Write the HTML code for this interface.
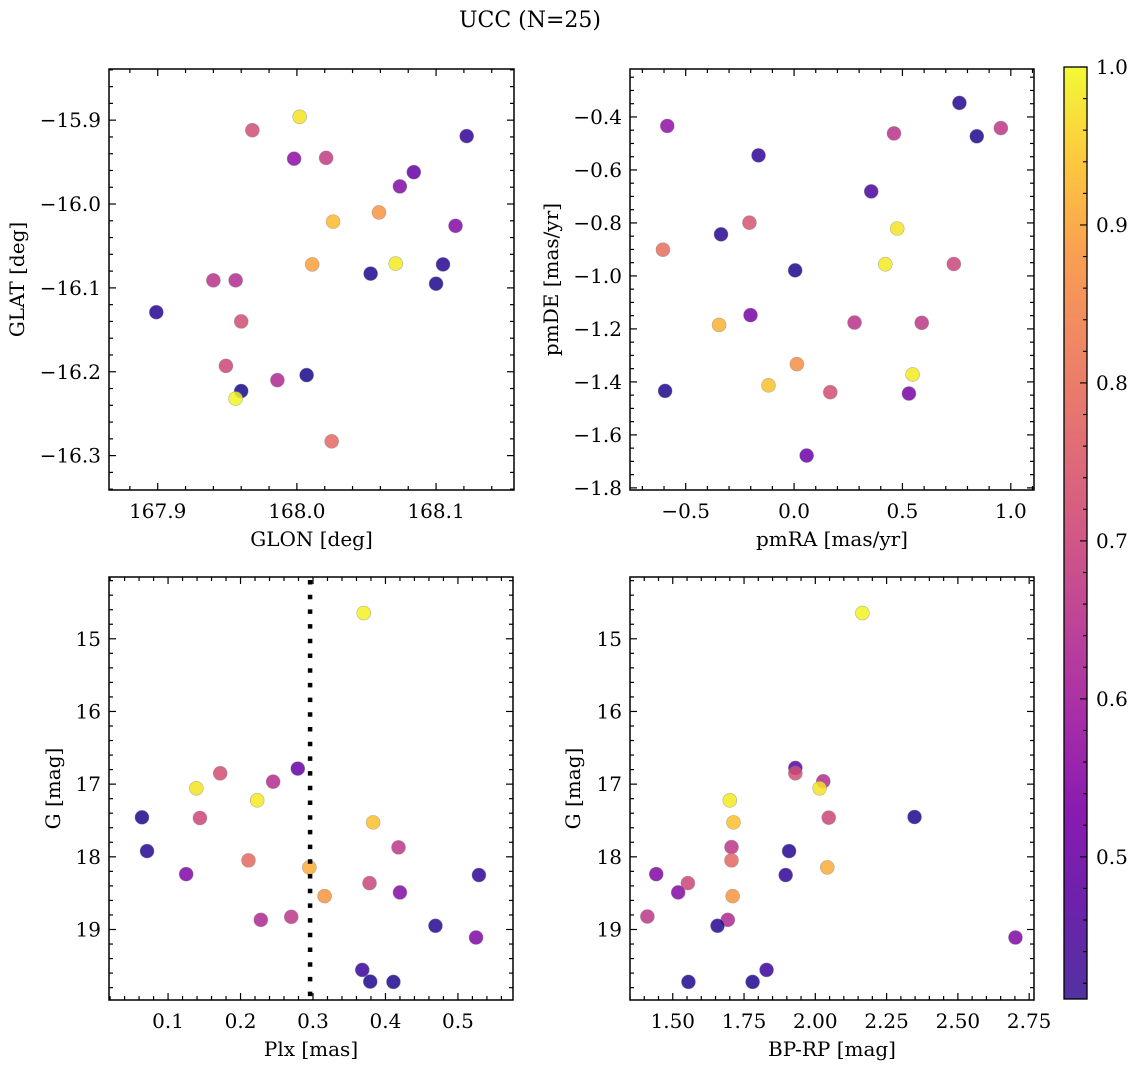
<!DOCTYPE html>
<html><head><meta charset="utf-8"><style>
html,body{margin:0;padding:0;background:#fff;}
svg{display:block;font-family:"DejaVu Serif","Liberation Serif",serif;}
</style></head><body>
<svg id="fig" width="1136" height="1067" viewBox="0 0 1136 1067" xmlns="http://www.w3.org/2000/svg">
<defs>
<linearGradient id="cbgrad" x1="0" y1="1" x2="0" y2="0">
<stop offset="0" stop-color="#3f1c96"/><stop offset="0.1" stop-color="#5c0aa1"/>
<stop offset="0.2" stop-color="#7c02a8"/><stop offset="0.3" stop-color="#9c179e"/>
<stop offset="0.4" stop-color="#b52f8c"/><stop offset="0.5" stop-color="#cc4778"/>
<stop offset="0.6" stop-color="#de5f65"/><stop offset="0.7" stop-color="#ed7953"/>
<stop offset="0.8" stop-color="#f89540"/><stop offset="0.9" stop-color="#fdc328"/>
<stop offset="1" stop-color="#f0f921"/>
</linearGradient>
</defs>
<text x="530" y="27" text-anchor="middle" font-size="22">UCC (N=25)</text>
<g id="layer"></g>
</svg>
<script>
// Panel 1: GLON vs GLAT
const glonVals=[168.002,167.968,167.998,168.021,168.122,168.084,168.074,168.059,168.026,168.114,168.011,168.071,168.105,168.053,168.100,167.940,167.956,167.899,167.960,167.949,167.986,168.007,167.960,167.956,168.025];
const glatVals=[-15.896,-15.912,-15.946,-15.945,-15.919,-15.962,-15.979,-16.010,-16.021,-16.026,-16.072,-16.071,-16.072,-16.083,-16.095,-16.091,-16.091,-16.129,-16.140,-16.193,-16.210,-16.204,-16.223,-16.232,-16.283];
const prob1=[0.97,0.72,0.58,0.68,0.45,0.52,0.57,0.85,0.91,0.57,0.87,0.98,0.44,0.43,0.43,0.66,0.65,0.44,0.72,0.70,0.64,0.42,0.42,0.99,0.77];
// Panel 2: pmRA vs pmDE
const pmraVals=[0.763,-0.585,0.461,0.843,0.954,-0.164,0.356,-0.206,-0.337,0.476,-0.605,0.421,0.737,0.005,-0.201,-0.346,0.279,0.589,0.013,-0.118,0.547,-0.595,0.167,0.530,0.058];
const pmdeVals=[-0.347,-0.434,-0.462,-0.473,-0.442,-0.545,-0.681,-0.799,-0.843,-0.821,-0.901,-0.956,-0.955,-0.979,-1.148,-1.185,-1.176,-1.177,-1.333,-1.413,-1.372,-1.434,-1.439,-1.444,-1.678];
const prob2=[0.44,0.59,0.66,0.43,0.67,0.45,0.48,0.73,0.44,0.97,0.78,0.98,0.70,0.43,0.55,0.90,0.66,0.67,0.84,0.92,0.98,0.43,0.72,0.55,0.53];
// Panel 3: Plx vs G
const plxVals=[0.370,0.279,0.172,0.245,0.139,0.223,0.064,0.144,0.383,0.418,0.071,0.211,0.295,0.125,0.529,0.378,0.420,0.316,0.270,0.228,0.469,0.525,0.368,0.379,0.411];
const gVals3=[14.646,16.786,16.851,16.966,17.057,17.223,17.457,17.466,17.526,17.870,17.921,18.049,18.146,18.238,18.251,18.362,18.490,18.541,18.826,18.867,18.949,19.110,19.556,19.717,19.721];
const prob3=[0.99,0.52,0.72,0.65,0.97,0.98,0.43,0.70,0.92,0.67,0.44,0.77,0.89,0.56,0.45,0.70,0.57,0.85,0.67,0.64,0.44,0.56,0.46,0.43,0.43];
const plxLine=0.296;
// Panel 4: BP-RP vs G
const bprpVals=[2.165,1.930,1.930,2.028,2.015,1.700,2.348,2.047,1.713,1.706,1.908,1.706,2.042,1.442,1.896,1.553,1.519,1.710,1.411,1.693,1.657,2.702,1.829,1.780,1.555];
const gVals4=[14.646,16.777,16.851,16.961,17.057,17.223,17.452,17.461,17.526,17.866,17.921,18.049,18.146,18.238,18.251,18.362,18.490,18.541,18.821,18.867,18.949,19.110,19.556,19.721,19.721];
const prob4=[0.99,0.50,0.72,0.65,0.97,0.98,0.43,0.70,0.92,0.67,0.44,0.77,0.89,0.56,0.45,0.70,0.57,0.85,0.67,0.64,0.44,0.56,0.46,0.43,0.43];
// Tick labels
const xt1=[167.9,168.0,168.1], xt1Lab=["167.9","168.0","168.1"];
const yt1=[-15.9,-16.0,-16.1,-16.2,-16.3], yt1Lab=["\u221215.9","\u221216.0","\u221216.1","\u221216.2","\u221216.3"];
const xt2=[-0.5,0,0.5,1.0], xt2Lab=["\u22120.5","0.0","0.5","1.0"];
const yt2=[-0.4,-0.6,-0.8,-1.0,-1.2,-1.4,-1.6,-1.8], yt2Lab=["\u22120.4","\u22120.6","\u22120.8","\u22121.0","\u22121.2","\u22121.4","\u22121.6","\u22121.8"];
const xt3=[0.1,0.2,0.3,0.4,0.5], xt3Lab=["0.1","0.2","0.3","0.4","0.5"];
const ytG=[15,16,17,18,19], ytGLab=["15","16","17","18","19"];
const xt4=[1.5,1.75,2.0,2.25,2.5,2.75], xt4Lab=["1.50","1.75","2.00","2.25","2.50","2.75"];
const cbTicks=[0.5,0.6,0.7,0.8,0.9,1.0], cbLab=["0.5","0.6","0.7","0.8","0.9","1.0"];
const cmin=0.41, cmax=1.0;

const NS="http://www.w3.org/2000/svg";
const layer=document.getElementById('layer');
function mk(tag,attrs,parent){const e=document.createElementNS(NS,tag);for(const k in attrs)e.setAttribute(k,attrs[k]);(parent||layer).appendChild(e);return e;}
const stops=[[13,8,135],[65,4,157],[106,0,168],[143,13,164],[177,42,144],[204,71,120],[225,100,98],[242,132,75],[252,166,54],[252,206,37],[240,249,33]];
function plasma(v){let t=(v-cmin)/(cmax-cmin);t=Math.max(0,Math.min(1,t))*10;const i=Math.min(9,Math.floor(t)),f=t-i;const a=stops[i],b=stops[i+1];return 'rgb('+a.map((c,k)=>Math.round(c+(b[k]-c)*f)).join(',')+')';}
const FS=20;
function panel(name,box,xr,yr,xs,ys,cs,xt,xtl,yt,ytl,xminor,yminor,xlabel,ylabel,ylabX){
  const g=mk('g',{});
  
  
  const X=v=>box.l+(v-xr[0])/(xr[1]-xr[0])*(box.r-box.l);
  const Y=v=>box.t+(v-yr[0])/(yr[1]-yr[0])*(box.b-box.t);
  const lo=Math.min(xr[0],xr[1]),hi=Math.max(xr[0],xr[1]);
  for(let v=Math.ceil(lo/xminor-1e-6)*xminor;v<=hi+1e-9;v+=xminor){const x=X(v);const major=xt.some(m=>Math.abs(m-v)<1e-6);const L=major?7:4;
    mk('line',{x1:x,x2:x,y1:box.b,y2:box.b-L,stroke:'#000','stroke-width':1.2},g);mk('line',{x1:x,x2:x,y1:box.t,y2:box.t+L,stroke:'#000','stroke-width':1.2},g);}
  const ylo=Math.min(yr[0],yr[1]),yhi=Math.max(yr[0],yr[1]);
  for(let v=Math.ceil(ylo/yminor-1e-6)*yminor;v<=yhi+1e-9;v+=yminor){const y=Y(v);const major=yt.some(m=>Math.abs(m-v)<1e-6);const L=major?7:4;
    mk('line',{x1:box.l,x2:box.l+L,y1:y,y2:y,stroke:'#000','stroke-width':1.2},g);mk('line',{x1:box.r,x2:box.r-L,y1:y,y2:y,stroke:'#000','stroke-width':1.2},g);}
  xt.forEach((v,i)=>{const t=mk('text',{x:X(v),y:box.b+28,'text-anchor':'middle','font-size':FS},g);t.textContent=xtl[i];
    
    });
  yt.forEach((v,i)=>{const t=mk('text',{x:box.l-8,y:Y(v)+7,'text-anchor':'end','font-size':FS},g);t.textContent=ytl[i];
    
    });
  const xl=mk('text',{x:(box.l+box.r)/2,y:box.b+56,'text-anchor':'middle','font-size':FS},g);xl.textContent=xlabel;
  
  
  const cy=(box.t+box.b)/2;
  const yl=mk('text',{x:ylabX,y:cy,'text-anchor':'middle','font-size':FS,transform:'rotate(-90 '+ylabX+' '+cy+')'},g);yl.textContent=ylabel;
  
  
  xs.forEach((v,i)=>{const c=mk('circle',{cx:X(v),cy:Y(ys[i]),r:7,fill:plasma(cs[i]),'fill-opacity':0.85,stroke:'#888','stroke-opacity':0.6,'stroke-width':0.6},g);
    
    });
  const fr=mk('rect',{x:box.l,y:box.t,width:box.r-box.l,height:box.b-box.t,fill:'none',stroke:'#000','stroke-width':1.5},g);
  
  
  return {X,Y,g};
}
panel('glon-glat-panel',{l:109,t:69,r:514,b:490},[167.865,168.156],[-15.839,-16.341],glonVals,glatVals,prob1,xt1,xt1Lab,yt1,yt1Lab,0.02,0.02,'GLON [deg]','GLAT [deg]',24);
panel('pm-panel',{l:630,t:69,r:1034,b:490},[-0.757,1.107],[-0.219,-1.808],pmraVals,pmdeVals,prob2,xt2,xt2Lab,yt2,yt2Lab,0.1,0.05,'pmRA [mas/yr]','pmDE [mas/yr]',558);
const p3=panel('plx-g-panel',{l:109,t:577,r:513,b:1000},[0.0185,0.576],[14.15,19.97],plxVals,gVals3,prob3,xt3,xt3Lab,ytG,ytGLab,0.02,0.2,'Plx [mas]','G [mag]',60);
const vl=mk('line',{x1:p3.X(plxLine),x2:p3.X(plxLine),y1:580,y2:1000,stroke:'#000','stroke-width':4.5,'stroke-dasharray':'4.5 10.2'},p3.g);


panel('cmd-panel',{l:630,t:577,r:1034,b:1000},[1.35,2.767],[14.15,19.97],bprpVals,gVals4,prob4,xt4,xt4Lab,ytG,ytGLab,0.05,0.2,'BP-RP [mag]','G [mag]',580);

const cb=mk('g',{});


const cbT=67,cbB=999,cbL=1064,cbR=1087;
mk('rect',{x:cbL,y:cbT,width:cbR-cbL,height:cbB-cbT,fill:'url(#cbgrad)','fill-opacity':0.9},cb);
const CY=v=>cbB-(v-cmin)/(cmax-cmin)*(cbB-cbT);
for(let v=0.42;v<=1.0001;v+=0.02){const y=CY(v);const major=cbTicks.some(m=>Math.abs(m-v)<1e-6);mk('line',{x1:cbR,x2:cbR-(major?7:4),y1:y,y2:y,stroke:'#000','stroke-width':1.1},cb);}
cbTicks.forEach((v,i)=>{const t=mk('text',{x:cbR+9,y:CY(v)+7,'font-size':FS},cb);t.textContent=cbLab[i];
  
  });
mk('rect',{x:cbL,y:cbT,width:cbR-cbL,height:cbB-cbT,fill:'none',stroke:'#000','stroke-width':1.3},cb);
</script>
</body></html>
